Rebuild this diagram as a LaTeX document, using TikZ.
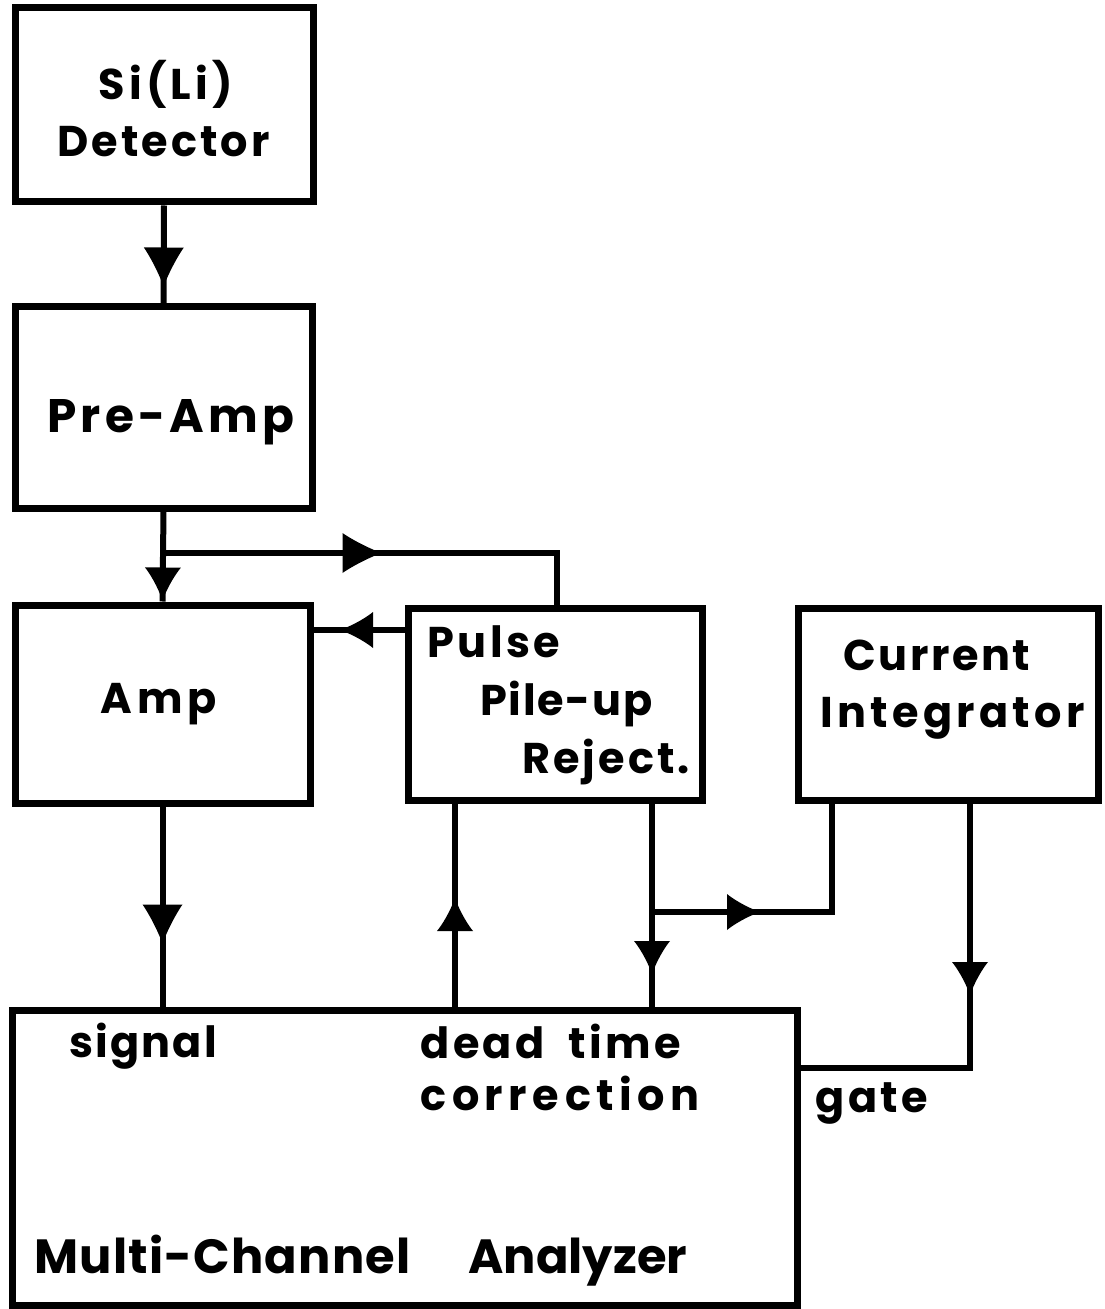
\documentclass[tikz,border=0pt]{standalone}
\usepackage{fontspec}
\setmainfont{Poppins}
\usetikzlibrary{decorations.markings}
\newcommand\tf[2]{\fontsize{#1}{#1}\selectfont\bfseries\addfontfeature{LetterSpace=#2}}
\tikzset{
  box/.style={draw, line width=3.5pt, inner sep=0pt},
  wire/.style={line width=3pt},
  lbl/.style={anchor=base west, inner sep=0pt},
  tri/.style={postaction={decorate,decoration={markings,
    mark=at position #1 with {\fill (20,0) .. controls (4,-6) and (-12,-15) .. (-19,-20) -- (-19,20) .. controls (-12,15) and (4,6) .. (20,0) -- cycle;}}}},
  trismall/.style={postaction={decorate,decoration={markings,
    mark=at position #1 with {\fill (17,0) .. controls (3,-5) and (-10,-13) .. (-16,-18) -- (-16,18) .. controls (-10,13) and (3,5) .. (17,0) -- cycle;}}}},
}
\begin{document}
\begin{tikzpicture}[x=0.5pt,y=-0.5pt]
\useasboundingbox (0,0) rectangle (1104,1309);
% boxes
\node[box, minimum width=149pt, minimum height=97pt]   (det) at (164,105) {};
\node[box, minimum width=148.5pt, minimum height=100.5pt] (pre) at (163.5,407.5) {};
\node[box, minimum width=147.5pt, minimum height=99pt]  (amp) at (162.5,704) {};
\node[box, minimum width=147pt, minimum height=96pt]    (pul) at (555,704) {};
\node[box, minimum width=150pt, minimum height=96pt]    (cur) at (948,704) {};
\node[box, minimum width=392.5pt, minimum height=147.5pt] (mca) at (404.5,1157.5) {};
% labels
\node[lbl] (t1)  at (98,100)  {\tf{21.5}{10}Si(Li)};
\node[lbl] (t2)  at (57,157)  {\tf{21.5}{7}Detector};
\node[lbl] (t3)  at (47,433)  {\tf{23.5}{9}Pre-Amp};
\node[lbl] (t4)  at (100,713) {\tf{21.5}{12}Amp};
\node[lbl] (t5)  at (427,657) {\tf{21.5}{8}Pulse};
\node[lbl] (t6)  at (480,715) {\tf{21.5}{4}Pile-up};
\node[lbl] (t7)  at (522,773) {\tf{21.5}{7}Reject.};
\node[lbl] (t8)  at (843,670) {\tf{21.5}{6}Current};
\node[lbl] (t9)  at (820,727) {\tf{21.5}{10}Integrator};
\node[lbl] (t10) at (69,1057) {\tf{21.5}{5}signal};
\node[lbl] (t11) at (420,1058) {\tf{21.5}{8}dead\hspace{12pt}time};
\node[lbl] (t12) at (420,1110) {\tf{21.5}{13}correction};
\node[lbl] (t13) at (815,1112) {\tf{21.5}{8}gate};
\node[lbl] (t14) at (34,1273) {\tf{24}{2.5}Multi-Channel};
\node[lbl] (t15) at (468,1273) {\tf{24}{0}Analyzer};
% junction coordinates
\coordinate (j1) at (163.5,553);
\coordinate (j2) at (557,553);
\coordinate (pw) at (408,630);
\coordinate (dt) at (455,1010);
\coordinate (pb) at (652,800);
\coordinate (j3) at (652,912);
\coordinate (j4) at (832,912);
\coordinate (cb) at (970,800);
\coordinate (g1) at (970,1068);
% connectors
\draw[wire, tri=30.5pt] (det.south) -- (pre.north);
\draw[wire, trismall=36pt] (pre.south) -- (amp.north);
\draw[wire, tri=99pt] (j1) -- (j2) -- (j2 |- pul.north);
\draw[wire, trismall=25.5pt] (pw) -- (amp.east |- pw);
\draw[wire, tri=58.5pt] (amp.south) -- (amp.south |- mca.north);
\draw[wire, trismall=47.5pt] (dt) -- (dt |- pul.south);
\draw[wire, trismall=78.5pt] (pb) -- (pb |- mca.north);
\draw[wire, trismall=45.5pt] (j3) -- (j4) -- (j4 |- cur.south);
\draw[wire, trismall=89pt] (cb) -- (g1) -- (mca.east |- g1);
\end{tikzpicture}
\end{document}
